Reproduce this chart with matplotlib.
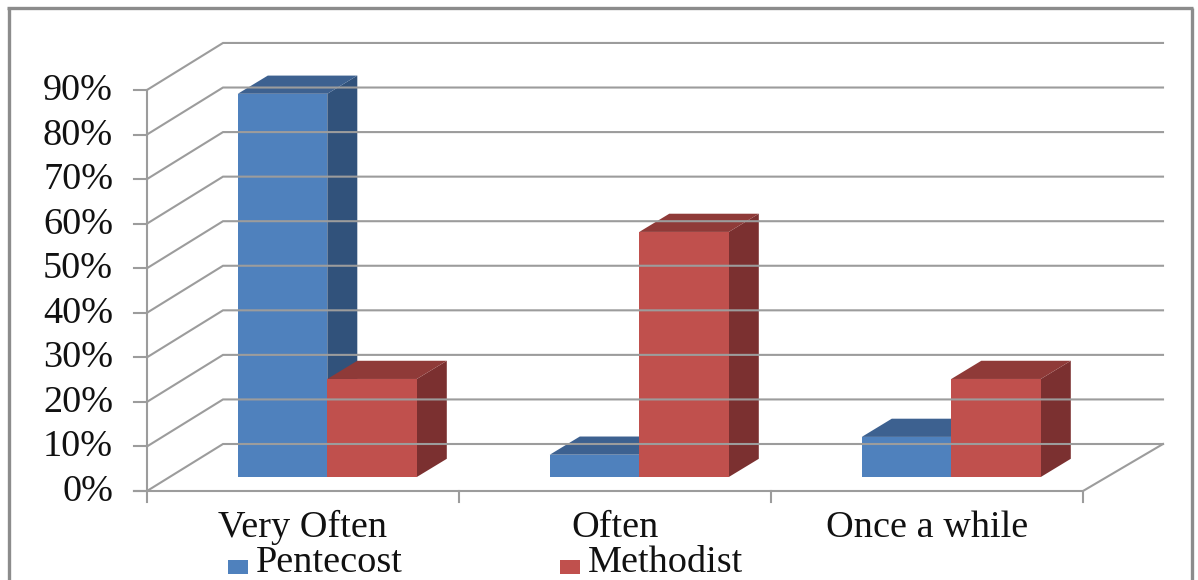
import matplotlib
matplotlib.use("Agg")
import matplotlib.pyplot as plt
from matplotlib.patches import Polygon, Rectangle

categories = ["Very Often", "Often", "Once a while"]
pentecost = [86, 5, 9]
methodist = [22, 55, 22]
yticks = [0, 10, 20, 30, 40, 50, 60, 70, 80, 90]

plt.rcParams["font.family"] = ["Liberation Serif", "DejaVu Serif"]

W, H = 1198, 580
px_per_pct = 4.456
zero_y = 491
grey = "#9c9c9c"
frame = "#8c8c8c"
ink = "#111111"
fsize = 27.5

# x runs in pixels, y runs in percent so the bars use their real values
fig = plt.figure(figsize=(W / 100, H / 100), dpi=100)
ax = fig.add_axes([0, 0, 1, 1])
ax.set_xlim(0, W)
ax.set_ylim((zero_y - H) / px_per_pct, zero_y / px_per_pct)
ax.axis("off")


def px(n):
    # vertical pixel distance as percent units
    return n / px_per_pct


def row(y):
    # pixel row counted from the top, as percent units
    return px(zero_y - y)


x0 = 147
x_end = 1083
slot = (x_end - x0) / 3
wall_dx = 76
wall_dy = px(47)
back_right = 1163
bar_w = 89.5
bar_dx = 30
bar_dy = px(18.2)
bar_floor = row(477)
group_shift = 24.3

# chart frame, open at the bottom
ax.plot([8.5, 8.5], [row(H), row(8)], color=frame, lw=2.4, solid_capstyle="butt")
ax.plot([1191.5, 1191.5], [row(H), row(8)], color=frame, lw=2.4, solid_capstyle="butt")
ax.plot([7, 1193], [row(8), row(8)], color=frame, lw=2.4, solid_capstyle="butt")

# side wall and back wall gridlines
for v in yticks:
    ax.plot([x0, x0 + wall_dx, back_right], [v, v + wall_dy, v + wall_dy], color=grey, lw=1.5, solid_joinstyle="miter")
    ax.plot([x0 - 13, x0], [v, v], color=grey, lw=1.5)
    ax.text(113, v - px(10), f"{v}%", ha="right", va="baseline", fontsize=fsize, color=ink)

# axis lines and floor
ax.plot([x0, x0], [px(-11), 90], color=grey, lw=1.5)
ax.plot([x0 - 13, x_end, back_right], [0, 0, wall_dy], color=grey, lw=1.5, solid_joinstyle="miter")
for i in range(1, 4):
    ax.plot([x0 + slot * i] * 2, [px(-11), 0], color=grey, lw=1.5)


def bar3d(left, value, front, top, side):
    right = left + bar_w
    y1 = value + bar_floor
    ax.add_patch(Polygon([(right, bar_floor), (right + bar_dx, bar_floor + bar_dy), (right + bar_dx, y1 + bar_dy), (right, y1)], fc=side, ec="none"))
    ax.add_patch(Polygon([(left, y1), (left + bar_dx, y1 + bar_dy), (right + bar_dx, y1 + bar_dy), (right, y1)], fc=top, ec="none"))
    ax.add_patch(Rectangle((left, bar_floor), bar_w, value, fc=front, ec="none"))


for i, name in enumerate(categories):
    center = x0 + slot * (i + 0.5)
    split = center + group_shift
    bar3d(split - bar_w, pentecost[i], "#4f81bd", "#3d6190", "#31527b")
    bar3d(split, methodist[i], "#c0504d", "#8f3a38", "#7b3030")
    ax.text(center, row(537), name, ha="center", va="baseline", fontsize=fsize, color=ink)

# legend along the bottom edge
ax.add_patch(Rectangle((228, row(574)), 20, px(14), fc="#4f81bd", ec="none"))
ax.text(256, row(571.5), "Pentecost", ha="left", va="baseline", fontsize=fsize, color=ink)
ax.add_patch(Rectangle((560, row(574)), 20, px(14), fc="#c0504d", ec="none"))
ax.text(588, row(571.5), "Methodist", ha="left", va="baseline", fontsize=fsize, color=ink)

fig.savefig("out.png", dpi=100)
